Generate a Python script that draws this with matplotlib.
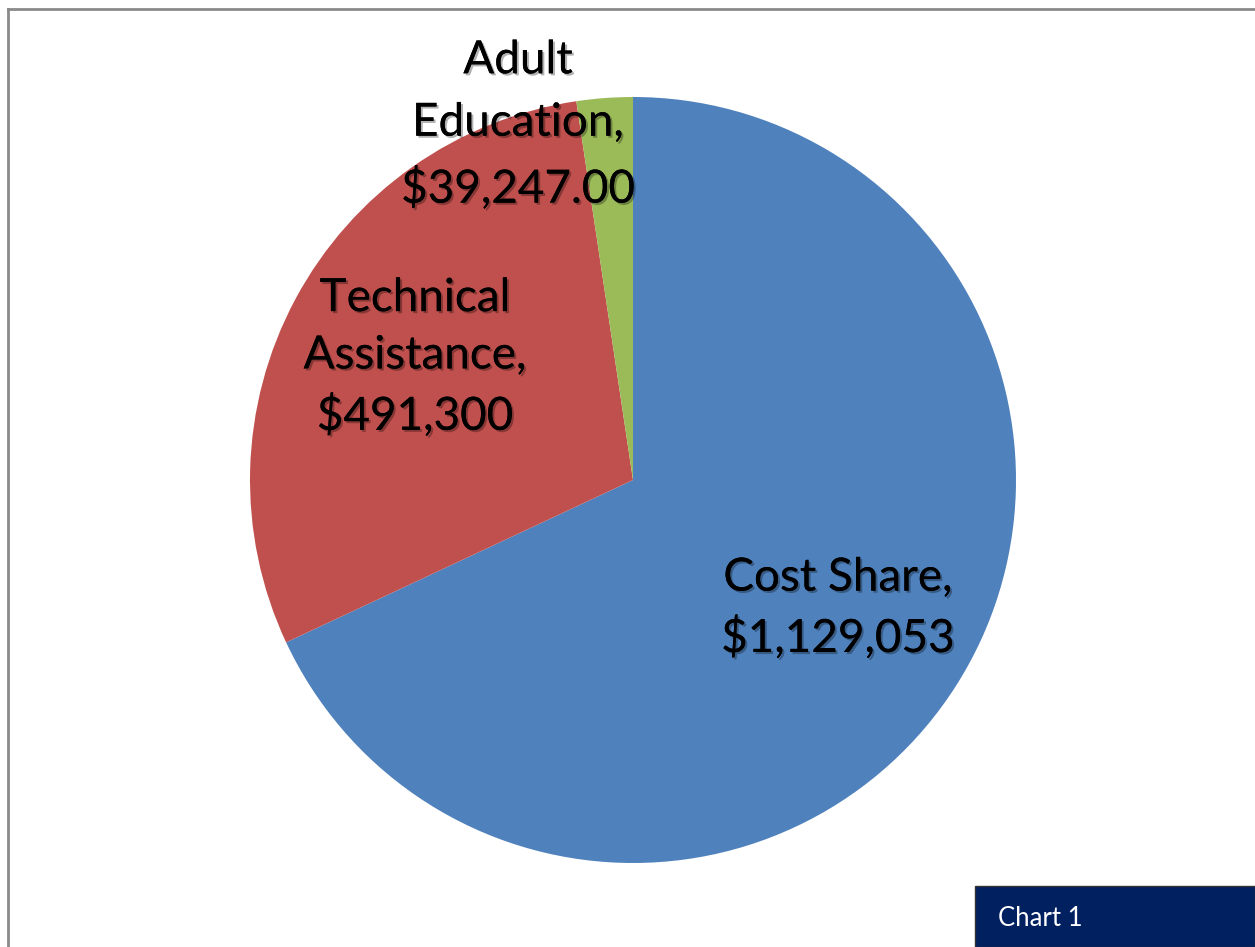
import matplotlib
matplotlib.use("Agg")
import matplotlib.pyplot as plt
import matplotlib.patheffects as pe
from matplotlib.patches import Rectangle
from matplotlib.lines import Line2D

categories = ["Cost Share", "Technical Assistance", "Adult Education"]
values = [1129053, 491300, 39247]
label_texts = ["Cost Share,\n$1,129,053", "Technical\nAssistance,\n$491,300",
               "Adult\nEducation,\n$39,247.00"]
colors = ["#4F81BD", "#C0504D", "#9BBB59"]
# label anchor positions (in pie-radius units)
label_pos = [(0.535, -0.335), (-0.569, 0.320), (-0.300, 0.927)]
label_spacing = [1.45, 1.45, 1.6]

W, H = 1255, 947
fig = plt.figure(figsize=(W / 100, H / 100), dpi=100)
fig.patch.set_facecolor("white")
ax = fig.add_axes([0, 0, 1, 1])
cx, cy, r = 633, 480, 383

ax.pie(values, colors=colors, startangle=90, counterclock=False, radius=1.0,
       center=(0, 0), frame=False, wedgeprops=dict(linewidth=0))
ax.set_xlim(-cx / r, (W - cx) / r)
ax.set_ylim(-(H - cy) / r, cy / r)
ax.set_aspect("auto")
ax.axis("off")

for txt, (x, y), ls in zip(label_texts, label_pos, label_spacing):
    t = ax.text(x, y, txt, ha="center", va="center", fontsize=33, family="Lato",
                color="black", linespacing=ls)
    t.set_path_effects([pe.withSimplePatchShadow(offset=(1.5, -1.5),
                                                 shadow_rgbFace="#000000", alpha=0.3),
                        pe.Normal()])

# outer border lines (left and top)
fig.add_artist(Line2D([8 / W, 8 / W], [0, 1 - 9 / H], transform=fig.transFigure,
                      color="#8a8a8a", lw=2))
fig.add_artist(Line2D([8 / W, 1], [1 - 9 / H, 1 - 9 / H], transform=fig.transFigure,
                      color="#8a8a8a", lw=2))

# "Chart 1" box
fig.add_artist(Rectangle((975 / W, 0), (W - 975) / W, (H - 886) / H,
                         transform=fig.transFigure, facecolor="#002060",
                         edgecolor="#333333", lw=1))
fig.text(998 / W, 1 - 918 / H, "Chart 1", color="white", fontsize=18.5,
         family="Lato", ha="left", va="center")

fig.savefig("out.png", dpi=100, facecolor="white")
